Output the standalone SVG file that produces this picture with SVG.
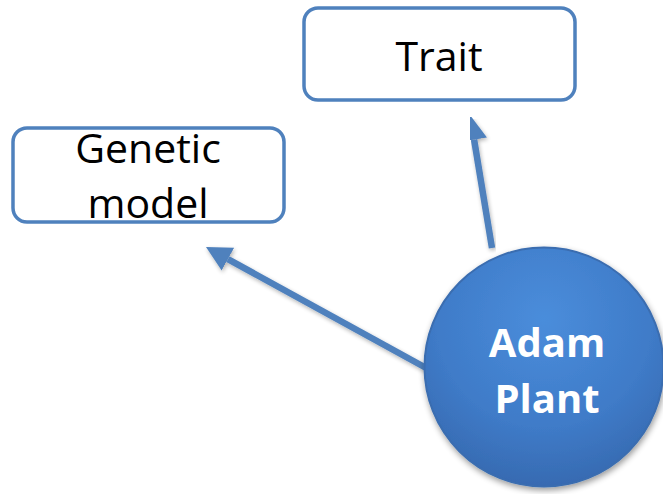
<svg xmlns="http://www.w3.org/2000/svg" width="663" height="494" viewBox="0 0 663 494">
  <style>
    .box { fill: #ffffff; stroke: #4f81bd; stroke-width: 3.5; }
    .lbl { font-family: "Open Sans", "Liberation Sans", sans-serif; font-size: 41px; fill: #000000; text-anchor: middle; }
    .hub { font-family: "Open Sans", "Liberation Sans", sans-serif; font-size: 40px; font-weight: bold; fill: #ffffff; text-anchor: middle; }
    .conn { stroke: #4f81bd; stroke-width: 6.5; fill: none; marker-end: url(#head); filter: url(#lineShadow); }
  </style>
  <defs>
    <marker id="head" markerUnits="userSpaceOnUse" viewBox="0 -14 26 28" refX="0" refY="0" markerWidth="26" markerHeight="28" orient="auto">
      <path d="M0,-13 L25,0 L0,13 z" fill="#4f81bd"/>
    </marker>
    <radialGradient id="ball" cx="0.5" cy="0.3" r="0.75">
      <stop offset="0" stop-color="#4a8ddb"/>
      <stop offset="0.6" stop-color="#3f7bc8"/>
      <stop offset="1" stop-color="#3567ad"/>
    </radialGradient>
    <filter id="lineShadow" x="-20%" y="-20%" width="140%" height="140%">
      <feGaussianBlur in="SourceAlpha" stdDeviation="2"/>
      <feOffset dx="1" dy="2" result="b"/>
      <feComponentTransfer><feFuncA type="linear" slope="0.3"/></feComponentTransfer>
      <feMerge><feMergeNode/><feMergeNode in="SourceGraphic"/></feMerge>
    </filter>
    <filter id="ballShadow" x="-20%" y="-20%" width="140%" height="140%">
      <feGaussianBlur in="SourceAlpha" stdDeviation="3"/>
      <feOffset dx="1" dy="3"/>
      <feComponentTransfer><feFuncA type="linear" slope="0.4"/></feComponentTransfer>
      <feMerge><feMergeNode/><feMergeNode in="SourceGraphic"/></feMerge>
    </filter>
  </defs>

  <g id="connectors">
    <line class="conn" x1="492" y1="248" x2="474.1" y2="139.6"/>
    <line class="conn" x1="428" y1="369" x2="227.9" y2="259.1"/>
  </g>

  <g id="trait">
    <rect class="box" x="304" y="8" width="271" height="92" rx="14"/>
    <text class="lbl" x="439" y="71">Trait</text>
  </g>

  <g id="genetic-model">
    <rect class="box" x="13" y="128" width="271" height="94" rx="14"/>
    <text class="lbl" x="148" y="163">Genetic</text>
    <text class="lbl" x="148" y="218">model</text>
  </g>

  <g id="adam-plant">
    <circle cx="544" cy="367" r="119.5" fill="url(#ball)" stroke="#3a6db0" stroke-width="2" filter="url(#ballShadow)"/>
    <text class="hub" x="547" y="357">Adam</text>
    <text class="hub" x="547" y="413">Plant</text>
  </g>
</svg>
